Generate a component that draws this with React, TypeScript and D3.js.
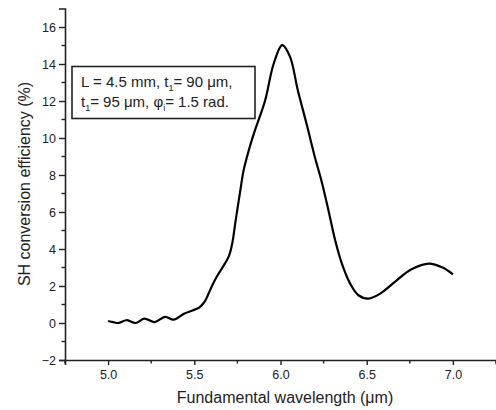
import React, { useEffect, useRef } from 'react';
import * as d3 from 'd3';

// wavelength (um) and SH efficiency (%)
const wavelength = [
  5.0, 5.03, 5.06, 5.105, 5.16, 5.21, 5.27, 5.33, 5.38, 5.44, 5.49, 5.53, 5.56, 5.6, 5.63,
  5.67, 5.7, 5.72, 5.74, 5.767, 5.786, 5.815, 5.853, 5.91, 5.96, 6.01, 6.055, 6.1, 6.153,
  6.2, 6.24, 6.278, 6.317, 6.356, 6.404, 6.452, 6.51, 6.578, 6.674, 6.76, 6.86, 6.94, 7.0,
];
const efficiency = [
  0.11, 0.05, 0.0, 0.15, 0.0, 0.24, 0.05, 0.33, 0.18, 0.5, 0.68, 0.85, 1.15, 1.95, 2.5,
  3.1, 3.6, 4.3, 5.55, 7.17, 8.25, 9.3, 10.45, 12.0, 14.0, 15.02, 14.4, 12.6, 10.7,
  8.95, 7.6, 6.1, 4.47, 3.21, 2.13, 1.5, 1.32, 1.59, 2.31, 2.9, 3.21, 3.0, 2.63,
];

const xTicks = [5.0, 5.5, 6.0, 6.5, 7.0];
const yTicks = [-2, 0, 2, 4, 6, 8, 10, 12, 14, 16];

const W = 496;
const H = 410;
const FONT = 'Arial, "Liberation Sans", sans-serif';

const App = () => {
  const ref = useRef<SVGSVGElement>(null);

  useEffect(() => {
    const svg = d3.select(ref.current);
    svg.selectAll('*').remove();

    const x = d3.scaleLinear().domain([4.75, 7.25]).range([65, 496]);
    const y = d3.scaleLinear().domain([-2, 17]).range([360, 8.5]);

    const data = wavelength.map((w, i) => ({ w, e: efficiency[i] }));

    // minor ticks
    const xMinor = d3.range(4.75, 7.26, 0.25).filter((v) => !xTicks.some((t) => Math.abs(t - v) < 1e-6));
    const yMinor = d3.range(-1, 17, 2);

    const xAxis = d3.axisBottom(x).tickValues(xTicks).tickFormat(d3.format('.1f')).tickSize(5).tickPadding(5);
    const yAxis = d3.axisLeft(y).tickValues(yTicks).tickFormat(d3.format('d')).tickSize(6).tickPadding(3);

    const gx = svg.append('g').attr('transform', 'translate(0,360)').call(xAxis);
    const gy = svg.append('g').attr('transform', 'translate(65,0)').call(yAxis);

    [gx, gy].forEach((g) => {
      g.select('.domain').attr('stroke', '#222').attr('stroke-width', 1.6);
      g.selectAll('.tick line').attr('stroke', '#222').attr('stroke-width', 1.4);
      g.selectAll('.tick text')
        .attr('font-family', FONT)
        .attr('font-size', 12.5)
        .attr('fill', '#222');
    });

    gx.selectAll('.minor')
      .data(xMinor)
      .join('line')
      .attr('x1', (d) => x(d))
      .attr('x2', (d) => x(d))
      .attr('y1', 0)
      .attr('y2', 3.5)
      .attr('stroke', '#222')
      .attr('stroke-width', 1.4);

    gy.selectAll('.minor')
      .data(yMinor)
      .join('line')
      .attr('x1', -3.5)
      .attr('x2', 0)
      .attr('y1', (d) => y(d))
      .attr('y2', (d) => y(d))
      .attr('stroke', '#222')
      .attr('stroke-width', 1.4);

    // curve
    const line = d3
      .line<{ w: number; e: number }>()
      .x((d) => x(d.w))
      .y((d) => y(d.e))
      .curve(d3.curveCatmullRom.alpha(0.5));

    svg
      .append('path')
      .datum(data)
      .attr('fill', 'none')
      .attr('stroke', '#000')
      .attr('stroke-width', 2.2)
      .attr('stroke-linejoin', 'round')
      .attr('d', line);

    // axis titles
    svg
      .append('text')
      .attr('x', 285)
      .attr('y', 403)
      .attr('text-anchor', 'middle')
      .attr('font-family', FONT)
      .attr('font-size', 16)
      .attr('fill', '#222')
      .text('Fundamental wavelength (\u03bcm)');

    svg
      .append('text')
      .attr('transform', 'translate(30,184) rotate(-90)')
      .attr('text-anchor', 'middle')
      .attr('font-family', FONT)
      .attr('font-size', 16)
      .attr('fill', '#222')
      .text('SH conversion efficiency (%)');

    // parameter box
    svg
      .append('rect')
      .attr('x', 72)
      .attr('y', 66.5)
      .attr('width', 183)
      .attr('height', 52)
      .attr('fill', '#fff')
      .attr('stroke', '#222')
      .attr('stroke-width', 1.6);

    const lines = [
      [['L = 4.5 mm, t', null], ['1', 'sub'], ['= 90 \u03bcm,', null]],
      [['t', null], ['1', 'sub'], ['= 95 \u03bcm, \u03c6', null], ['i', 'sub'], ['= 1.5 rad.', null]],
    ];
    lines.forEach((parts, i) => {
      const t = svg
        .append('text')
        .attr('x', 81)
        .attr('y', 87 + i * 20)
        .attr('font-family', FONT)
        .attr('font-size', 15)
        .attr('fill', '#222');
      parts.forEach(([s, kind], j) => {
        const ts = t.append('tspan').text(s as string);
        if (kind === 'sub') ts.attr('font-size', 9).attr('dy', 4);
        else if (j > 0) ts.attr('dy', -4);
      });
    });
  }, []);

  return (
    <div style={{ position: 'absolute', left: 0, top: 0 }}>
      <svg ref={ref} width={W} height={H} style={{ display: 'block', background: '#fff' }} />
    </div>
  );
};

export default App;
